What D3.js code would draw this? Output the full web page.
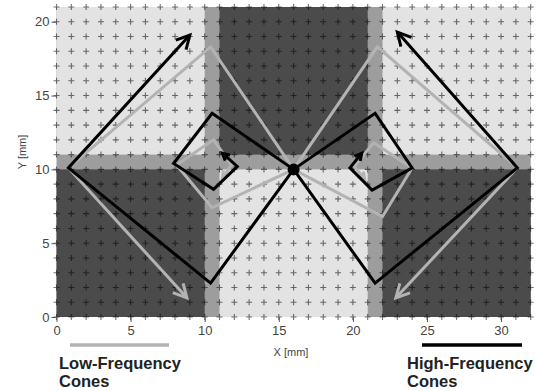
<!DOCTYPE html>
<html>
<head>
<meta charset="utf-8">
<script src="https://cdn.jsdelivr.net/npm/d3@7"></script>
<style>
  html, body { margin: 0; padding: 0; background: #fff; }
  svg { display: block; font-family: "Liberation Sans", Arial, sans-serif; }
</style>
</head>
<body>
<svg id="chart" width="536" height="391"></svg>
<script>
// Axis ticks
const xTicks = [0, 5, 10, 15, 20, 25, 30];
const yTicks = [0, 5, 10, 15, 20];

// Tissue regions in mm: [x0, x1, y0, y1, shade]
const regions = [
  [0, 32, 0, 21, "band"],
  [0, 10, 11, 21, "light"],
  [0, 10, 0, 10, "dark"],
  [11, 21, 11, 21, "dark"],
  [11, 21, 0, 10, "light"],
  [22, 32, 11, 21, "light"],
  [22, 32, 0, 10, "dark"]
];

// Stimulus trajectories (mm)
const lowOuterLeft  = [[16, 10], [10.4, 18.3], [0.8, 10.1], [8.8, 1.3]];
const lowInnerLeft  = [[16, 10], [10.5, 7.4], [8.1, 10.3], [10.6, 12.0], [11.8, 10.3], [11.2, 9.4]];
const highOuterLeft = [[16, 10], [10.4, 2.3], [0.8, 10.1], [9.0, 19.1]];
const highInnerLeft = [[16, 10], [10.5, 13.8], [7.9, 10.4], [10.6, 8.65], [12.2, 10.2], [11.2, 11.1]];

const lowOuterRight  = [[16, 10], [21.65, 18.3], [31.1, 10.1], [22.9, 1.3]];
const lowInnerRight  = [[16, 10], [22.0, 6.8], [24.0, 10.1], [21.4, 11.8], [20.1, 10.2], [20.8, 9.3]];
const highOuterRight = [[16, 10], [21.5, 2.3], [31.1, 10.1], [23.0, 19.3]];
const highInnerRight = [[16, 10], [21.5, 13.8], [24.0, 10.1], [21.3, 8.6], [19.8, 10.1], [20.6, 11.1]];

const center = [16, 10];

const legendItems = [
  { label: ["Low-Frequency", "Cones"], kind: "low" },
  { label: ["High-Frequency", "Cones"], kind: "high" }
];

const shadeColor = { light: "#e3e3e3", band: "#9d9d9d", dark: "#4b4b4b" };
const lineColor = { low: "#b3b3b3", high: "#000000" };

const svg = d3.select("#chart");
const x = d3.scaleLinear().domain([0, 32]).range([56.5, 530.7]);
const y = d3.scaleLinear().domain([0, 21]).range([317, 7]);

// Background regions
svg.append("g").selectAll("rect").data(regions).join("rect")
  .attr("x", d => x(d[0]))
  .attr("y", d => y(d[3]))
  .attr("width", d => x(d[1]) - x(d[0]))
  .attr("height", d => y(d[2]) - y(d[3]))
  .attr("fill", d => shadeColor[d[4]]);

// Electrode grid crosses at every mm
const gridPts = [];
for (const gx of d3.range(0, 33)) for (const gy of d3.range(0, 22)) gridPts.push([gx, gy]);
const cross = svg.append("g").attr("stroke", "#000").attr("stroke-opacity", 0.55).attr("stroke-width", 1.1);
cross.selectAll("path").data(gridPts).join("path")
  .attr("d", d => {
    const px = x(d[0]), py = y(d[1]), h = 3;
    return `M${px - h},${py}H${px + h}M${px},${py - h}V${py + h}`;
  });

// Axes
const yAxis = svg.append("g").attr("transform", `translate(${x(0)},0)`)
  .call(d3.axisLeft(y).tickValues(yTicks).tickSize(5).tickPadding(2));
const xAxis = svg.append("g").attr("transform", `translate(0,${y(0)})`)
  .call(d3.axisBottom(x).tickValues(xTicks).tickSize(5).tickPadding(4));
[xAxis, yAxis].forEach(a => {
  a.select(".domain").remove();
  a.selectAll(".tick line").attr("stroke", "#555");
  a.selectAll(".tick text").attr("fill", "#444").style("font-size", "13px")
    .style("font-family", "'Liberation Sans', Arial, sans-serif");
});

svg.append("text")
  .attr("transform", `translate(26,152) rotate(-90)`)
  .attr("text-anchor", "middle")
  .attr("fill", "#444").style("font-size", "11px")
  .text("Y [mm]");
svg.append("text")
  .attr("x", 291).attr("y", 356)
  .attr("text-anchor", "middle")
  .attr("fill", "#444").style("font-size", "11px")
  .text("X [mm]");

// Trajectories with open arrowheads
const line = d3.line().x(d => x(d[0])).y(d => y(d[1]));
function drawPath(pts, kind, headLen) {
  const g = svg.append("g")
    .attr("fill", "none")
    .attr("stroke", lineColor[kind])
    .attr("stroke-width", 3)
    .attr("stroke-linejoin", "miter")
    .attr("stroke-linecap", "butt");
  g.append("path").attr("d", line(pts));
  const a = pts[pts.length - 2], b = pts[pts.length - 1];
  const tx = x(b[0]), ty = y(b[1]);
  const ang = Math.atan2(ty - y(a[1]), tx - x(a[0]));
  const spread = Math.PI / 6.5;
  const head = [
    [tx - headLen * Math.cos(ang - spread), ty - headLen * Math.sin(ang - spread)],
    [tx, ty],
    [tx - headLen * Math.cos(ang + spread), ty - headLen * Math.sin(ang + spread)]
  ];
  g.append("path").attr("d", d3.line()(head));
}

drawPath(lowOuterLeft, "low", 15);
drawPath(lowOuterRight, "low", 15);
drawPath(lowInnerLeft, "low", 8);
drawPath(lowInnerRight, "low", 8);
drawPath(highOuterLeft, "high", 15);
drawPath(highOuterRight, "high", 15);
drawPath(highInnerLeft, "high", 8);
drawPath(highInnerRight, "high", 8);

svg.append("circle")
  .attr("cx", x(center[0])).attr("cy", y(center[1]))
  .attr("r", 6).attr("fill", "#000");

// Legend below the axis
const legendPos = [{ lx0: 70, lx1: 169, tx: 59 }, { lx0: 422, lx1: 522, tx: 407 }];
legendItems.forEach((item, i) => {
  const p = legendPos[i];
  svg.append("line")
    .attr("x1", p.lx0).attr("x2", p.lx1).attr("y1", 345).attr("y2", 345)
    .attr("stroke", lineColor[item.kind]).attr("stroke-width", 3.5);
  const t = svg.append("text")
    .attr("x", p.tx).attr("y", 369)
    .attr("fill", "#222").style("font-size", "16.5px").style("font-weight", "bold");
  item.label.forEach((s, j) => {
    t.append("tspan").attr("x", p.tx).attr("dy", j === 0 ? 0 : 18).text(s);
  });
});
</script>
</body>
</html>
